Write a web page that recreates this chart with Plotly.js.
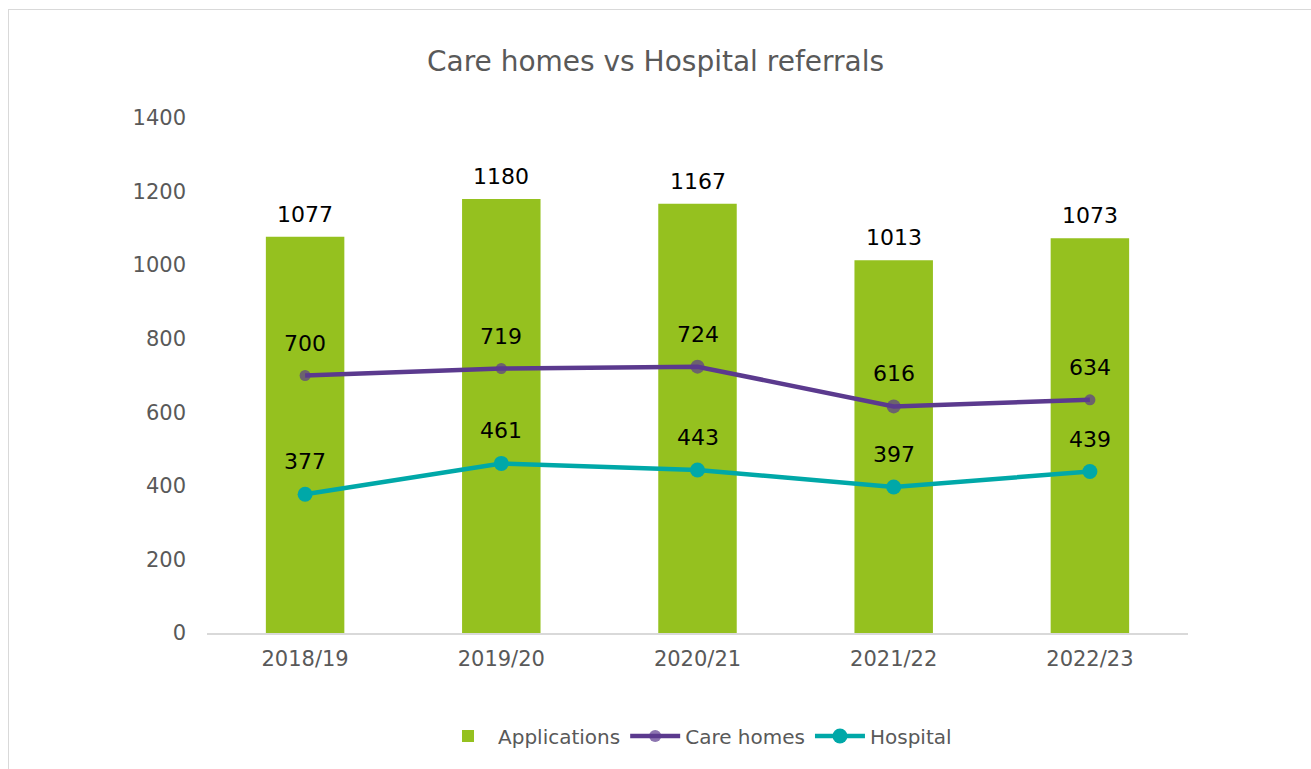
<!DOCTYPE html>
<html>
<head>
<meta charset="utf-8">
<script src="https://cdn.plot.ly/plotly-3.0.1.min.js"></script>
<style>
html,body{margin:0;padding:0;background:#fff;overflow:hidden;}
#frame{position:absolute;left:8px;top:9px;width:1330px;height:800px;border:1px solid #d9d9d9;box-sizing:border-box;}
#chart{position:absolute;left:0;top:0;width:1311px;height:769px;}
</style>
</head>
<body>
<div id="frame"></div>
<div id="chart"></div>
<script>
const categories = ["2018/19","2019/20","2020/21","2021/22","2022/23"];
const applications = [1077,1180,1167,1013,1073];
const careHomes = [700,719,724,616,634];
const hospital = [377,461,443,397,439];
const yTicks = [0,200,400,600,800,1000,1200,1400];

const FONT = "DejaVu Sans, sans-serif";

const traces = [
  {type:'bar', name:'Applications', x:categories, y:applications,
   marker:{color:'#95c11f'}, width:0.4, hoverinfo:'x+y'},
  {type:'scatter', mode:'lines+markers', name:'Care homes', x:categories, y:careHomes,
   line:{color:'#5b3a8e', width:4.5}, marker:{color:'#5b3a8e', size:[11,11,14,14,11], line:{width:0}}},
  {type:'scatter', mode:'lines+markers', name:'Hospital', x:categories, y:hospital,
   line:{color:'#00a8a8', width:4.5}, marker:{color:'#00a8a8', size:15, line:{width:0}}}
];

const annotations = [];
categories.forEach((c,i)=>{
  annotations.push({x:c, y:applications[i], text:String(applications[i]), showarrow:false,
    yanchor:'bottom', yshift:8, font:{family:FONT, size:22, color:'#000'}});
  annotations.push({x:c, y:careHomes[i], text:String(careHomes[i]), showarrow:false,
    yanchor:'bottom', yshift:18, font:{family:FONT, size:22, color:'#000'}});
  annotations.push({x:c, y:hospital[i], text:String(hospital[i]), showarrow:false,
    yanchor:'bottom', yshift:18, font:{family:FONT, size:22, color:'#000'}});
});

const layout = {
  width:1311, height:769,
  margin:{l:207, r:123, t:118, b:136},
  paper_bgcolor:'rgba(0,0,0,0)', plot_bgcolor:'rgba(0,0,0,0)',
  font:{family:FONT, color:'#595959'},
  title:{text:'Care homes vs Hospital referrals', x:0.5, xanchor:'center', y:0.92, yanchor:'middle',
    font:{family:FONT, size:28, color:'#595959'}},
  showlegend:true,
  legend:{orientation:'h', x:0.5, xanchor:'center', y:-0.2, yanchor:'middle',
    font:{family:FONT, size:20, color:'#595959'}, traceorder:'normal', itemwidth:50},
  xaxis:{type:'category', showgrid:false, showline:true, linecolor:'#d9d9d9', linewidth:2,
    ticks:'', ticklabelstandoff:6, tickfont:{family:FONT, size:21, color:'#595959'}, fixedrange:true},
  yaxis:{range:[0,1400], tickvals:yTicks, showgrid:false, zeroline:false, showline:false,
    ticks:'', ticklabelstandoff:20, tickfont:{family:FONT, size:21, color:'#595959'}, fixedrange:true},
  annotations:annotations,
  bargap:0.6
};

Plotly.newPlot('chart', traces, layout, {displayModeBar:false, staticPlot:true});
</script>
</body>
</html>
